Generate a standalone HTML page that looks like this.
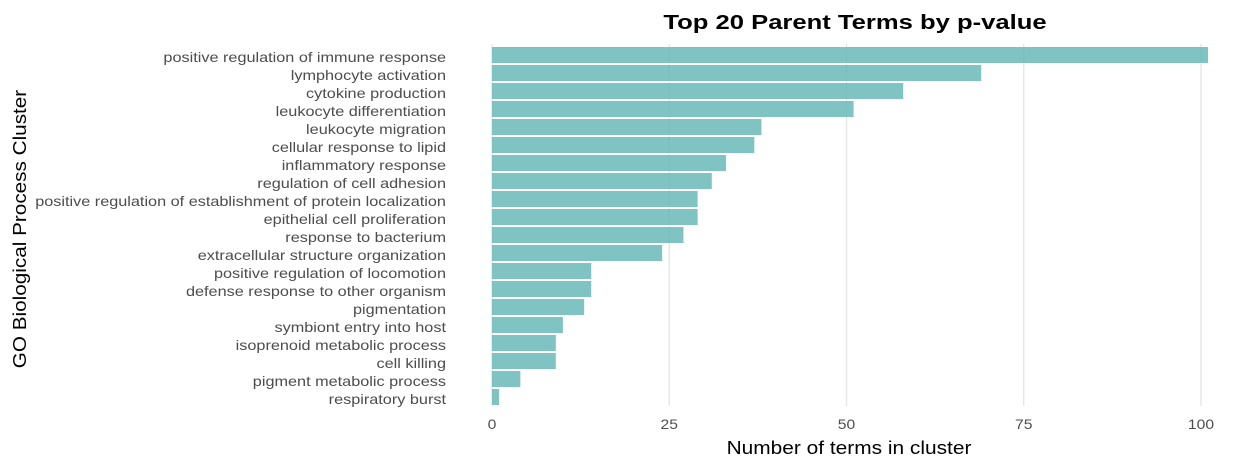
<!DOCTYPE html>
<html><head><meta charset="utf-8"><style>
body{margin:0;background:#fff;}
svg{display:block;font-family:"Liberation Sans",sans-serif;}
</style></head><body>
<svg id="c" width="1256" height="468"></svg>
<script>
const categories=["positive regulation of immune response","lymphocyte activation","cytokine production","leukocyte differentiation","leukocyte migration","cellular response to lipid","inflammatory response","regulation of cell adhesion","positive regulation of establishment of protein localization","epithelial cell proliferation","response to bacterium","extracellular structure organization","positive regulation of locomotion","defense response to other organism","pigmentation","symbiont entry into host","isoprenoid metabolic process","cell killing","pigment metabolic process","respiratory burst"];
const values=[101,69,58,51,38,37,33,31,29,29,27,24,14,14,13,10,9,9,4,1];
const ticks=[0,25,50,75,100];
const NS="http://www.w3.org/2000/svg";
const svg=document.getElementById('c');
const x0=492,x100=1201;
const xs=v=>x0+(x100-x0)*v/100;
const yTop=i=>47+i*18;
function mk(t,a,p){const e=document.createElementNS(NS,t);for(const k in a)e.setAttribute(k,a[k]);(p||svg).appendChild(e);return e;}
function widen(el,f){const w=el.getComputedTextLength();el.setAttribute('textLength',w*f);el.setAttribute('lengthAdjust','spacingAndGlyphs');}
ticks.forEach(t=>{
 const g=mk('line',{x1:xs(t),x2:xs(t),y1:44,y2:406,stroke:'#e3e3e3','stroke-width':1.3});
 
 
 const l=mk('text',{x:xs(t),y:429,'text-anchor':'middle','font-size':14,fill:'#4d4d4d'});
 l.textContent=t;
 
 
 widen(l,1.12);
});
categories.forEach((c,i)=>{
 const r=mk('rect',{x:x0,y:yTop(i),width:xs(values[i])-x0,height:16,fill:'#5fb5b3','fill-opacity':0.8});
 
 
 const t=mk('text',{x:446,y:yTop(i)+15,'text-anchor':'end','font-size':14,fill:'#4d4d4d'});
 t.textContent=c;
 
 
 widen(t,1.16);
});
</script>
<script>
(function(){
const NS="http://www.w3.org/2000/svg",svg=document.getElementById('c');
function widen(el,f){const w=el.getComputedTextLength();el.setAttribute('textLength',w*f);el.setAttribute('lengthAdjust','spacingAndGlyphs');}
let t=document.createElementNS(NS,'text');t.setAttribute('x',855);t.setAttribute('y',29);t.setAttribute('text-anchor','middle');t.setAttribute('font-size',20);t.setAttribute('font-weight','bold');t.textContent='Top 20 Parent Terms by p-value';


svg.appendChild(t);widen(t,1.28);
t=document.createElementNS(NS,'text');t.setAttribute('x',849);t.setAttribute('y',454);t.setAttribute('text-anchor','middle');t.setAttribute('font-size',18);t.textContent='Number of terms in cluster';


svg.appendChild(t);widen(t,1.16);
t=document.createElementNS(NS,'text');t.setAttribute('transform','translate(26,229) rotate(-90)');t.setAttribute('text-anchor','middle');t.setAttribute('font-size',18);t.textContent='GO Biological Process Cluster';


svg.appendChild(t);widen(t,1.15);
})();
</script>
</body></html>
